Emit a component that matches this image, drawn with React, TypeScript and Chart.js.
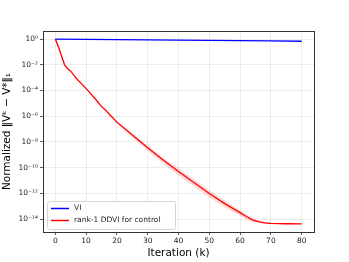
import React, { useEffect, useRef } from "react";
import { Chart, registerables } from "chart.js";

Chart.register(...registerables);

// ---- data ----
const viIters = [0, 10, 20, 30, 40, 50, 60, 70, 80];
const viValues = [1, 0.95, 0.91, 0.87, 0.83, 0.79, 0.75, 0.72, 0.68];

const ddviIters = [0, 1, 2, 3, 4, 5, 6, 7, 8, 9, 10, 11, 12, 13, 14, 15, 16, 17, 18, 19, 20, 25, 30, 35, 40, 45, 50, 55, 60, 62, 64, 66, 68, 70, 75, 80];
const ddviValues = [1, 2.5e-1, 5.0e-2, 1.0e-2, 5.0e-3, 3.2e-3, 1.6e-3, 7.9e-4, 4.5e-4, 2.5e-4, 1.4e-4, 7.9e-5, 4.0e-5, 2.2e-5, 1.1e-5, 5.6e-6, 3.5e-6, 2.0e-6, 1.1e-6, 6.3e-7, 3.5e-7, 3.5e-8, 3.5e-9, 4.0e-10, 5.0e-11, 7.1e-12, 1.0e-12, 1.6e-13, 3.2e-14, 1.6e-14, 8.9e-15, 6.3e-15, 5.2e-15, 4.7e-15, 4.4e-15, 4.3e-15];

const bandIters = [0, 10, 20, 25, 30, 35, 40, 45, 50, 55, 60, 62, 64, 66, 68, 70, 75, 80];
const bandUpper = [1, 1.6e-4, 4.5e-7, 5.0e-8, 5.0e-9, 6.3e-10, 8.9e-11, 1.26e-11, 1.8e-12, 2.8e-13, 5.0e-14, 2.5e-14, 1.26e-14, 7.9e-15, 6.0e-15, 5.0e-15, 4.6e-15, 4.5e-15];
const bandLower = [1, 1.26e-4, 2.5e-7, 2.2e-8, 2.0e-9, 2.0e-10, 2.5e-11, 3.5e-12, 5.0e-13, 7.9e-14, 1.8e-14, 8.9e-15, 5.6e-15, 4.7e-15, 4.4e-15, 4.2e-15, 4.1e-15, 4.0e-15];

const xTicks = [0, 10, 20, 30, 40, 50, 60, 70, 80];
const yTickValues = [1, 1e-2, 1e-4, 1e-6, 1e-8, 1e-10, 1e-12, 1e-14];
const yTickLabels = ["10⁰", "10⁻²", "10⁻⁴", "10⁻⁶", "10⁻⁸", "10⁻¹⁰", "10⁻¹²", "10⁻¹⁴"];

const legendLabels = ["VI", "rank-1 DDVI for control"];
const legendColors = ["#0000ff", "#ff0000"];

const xTitle = "Iteration (k)";
const yTitle = "Normalized ‖Vᵏ − V*‖₁";

const FONT = "'DejaVu Sans', sans-serif";

const pts = (xs: number[], ys: number[]) => xs.map((x, i) => ({ x, y: ys[i] }));

const framePlugin = {
  id: "frame",
  afterDraw(chart: any) {
    const { ctx, chartArea: a } = chart;
    ctx.save();
    ctx.strokeStyle = "#333";
    ctx.lineWidth = 1;
    ctx.strokeRect(Math.round(a.left) + 0.5, Math.round(a.top) + 0.5, Math.round(a.right - a.left), Math.round(a.bottom - a.top));
    // legend
    const bx = 47.5, by = 201.5, bw = 128, bh = 28, r = 2;
    ctx.beginPath();
    ctx.moveTo(bx + r, by);
    ctx.lineTo(bx + bw - r, by);
    ctx.quadraticCurveTo(bx + bw, by, bx + bw, by + r);
    ctx.lineTo(bx + bw, by + bh - r);
    ctx.quadraticCurveTo(bx + bw, by + bh, bx + bw - r, by + bh);
    ctx.lineTo(bx + r, by + bh);
    ctx.quadraticCurveTo(bx, by + bh, bx, by + bh - r);
    ctx.lineTo(bx, by + r);
    ctx.quadraticCurveTo(bx, by, bx + r, by);
    ctx.closePath();
    ctx.fillStyle = "rgba(255,255,255,0.85)";
    ctx.fill();
    ctx.strokeStyle = "#d6d6d6";
    ctx.lineWidth = 1;
    ctx.stroke();
    ctx.font = `7.5px ${FONT}`;
    ctx.textBaseline = "middle";
    ctx.textAlign = "left";
    legendLabels.forEach((lab, i) => {
      const y = 208.5 + i * 12;
      ctx.strokeStyle = legendColors[i];
      ctx.lineWidth = 1.5;
      ctx.beginPath();
      ctx.moveTo(51, y);
      ctx.lineTo(69, y);
      ctx.stroke();
      ctx.fillStyle = "#222";
      ctx.fillText(lab, 74, y);
    });
    ctx.restore();
  },
};

export default function App() {
  const ref = useRef<HTMLCanvasElement | null>(null);
  useEffect(() => {
    if (!ref.current) return;
    const chart = new Chart(ref.current, {
      type: "line",
      data: {
        datasets: [
          {
            label: "VI",
            data: pts(viIters, viValues),
            borderColor: "#0000ff",
            borderWidth: 1.3,
            pointRadius: 0,
            fill: false,
            order: 0,
          },
          {
            label: "rank-1 DDVI for control",
            data: pts(ddviIters, ddviValues),
            borderColor: "#ff0000",
            borderWidth: 1.3,
            pointRadius: 0,
            fill: false,
            order: 0,
          },
          {
            label: "upper",
            data: pts(bandIters, bandUpper),
            borderWidth: 0,
            borderColor: "rgba(0,0,0,0)",
            backgroundColor: "rgba(255,0,0,0.15)",
            pointRadius: 0,
            fill: "+1",
            order: 1,
          },
          {
            label: "lower",
            data: pts(bandIters, bandLower),
            borderWidth: 0,
            borderColor: "rgba(0,0,0,0)",
            pointRadius: 0,
            fill: false,
            order: 1,
          },
        ],
      },
      options: {
        animation: false,
        responsive: false,
        maintainAspectRatio: false,
        devicePixelRatio: 1,
        layout: { padding: { top: 31, right: 35, left: 0, bottom: 0 } },
        plugins: { legend: { display: false }, tooltip: { enabled: false } },
        scales: {
          x: {
            type: "linear",
            min: -4,
            max: 84,
            afterBuildTicks: (s: any) => {
              s.ticks = xTicks.map((v) => ({ value: v }));
            },
            afterFit: (s: any) => {
              s.height = 30;
            },
            grid: { color: "rgba(0,0,0,0.09)", lineWidth: 0.8, tickColor: "#333", tickLength: 3, drawTicks: true },
            border: { display: false },
            ticks: { font: { family: FONT, size: 7.5 }, color: "#222", padding: 2, maxRotation: 0 },
            title: { display: true, text: xTitle, font: { family: FONT, size: 10.5 }, color: "#000", padding: { top: 0, bottom: 2 } },
          },
          y: {
            type: "logarithmic",
            min: Math.pow(10, -15.0),
            max: Math.pow(10, 0.63),
            afterBuildTicks: (s: any) => {
              s.ticks = yTickValues.map((v) => ({ value: v }));
            },
            afterFit: (s: any) => {
              s.width = 43;
            },
            grid: { color: "rgba(0,0,0,0.09)", lineWidth: 0.8, tickColor: "#333", tickLength: 3, drawTicks: true },
            border: { display: false },
            ticks: {
              font: { family: FONT, size: 7.5 },
              color: "#222",
              padding: 2,
              callback: (_v: any, i: number) => yTickLabels[i],
            },
            title: { display: true, text: yTitle, font: { family: FONT, size: 10.5 }, color: "#000", padding: { top: 1, bottom: 0 } },
          },
        },
      },
      plugins: [framePlugin],
    } as any);
    return () => chart.destroy();
  }, []);
  return (
    <div style={{ position: "fixed", left: 0, top: 0, width: 349, height: 262, background: "#fff" }}>
      <canvas ref={ref} width={349} height={262} style={{ width: 349, height: 262 }} />
    </div>
  );
}
